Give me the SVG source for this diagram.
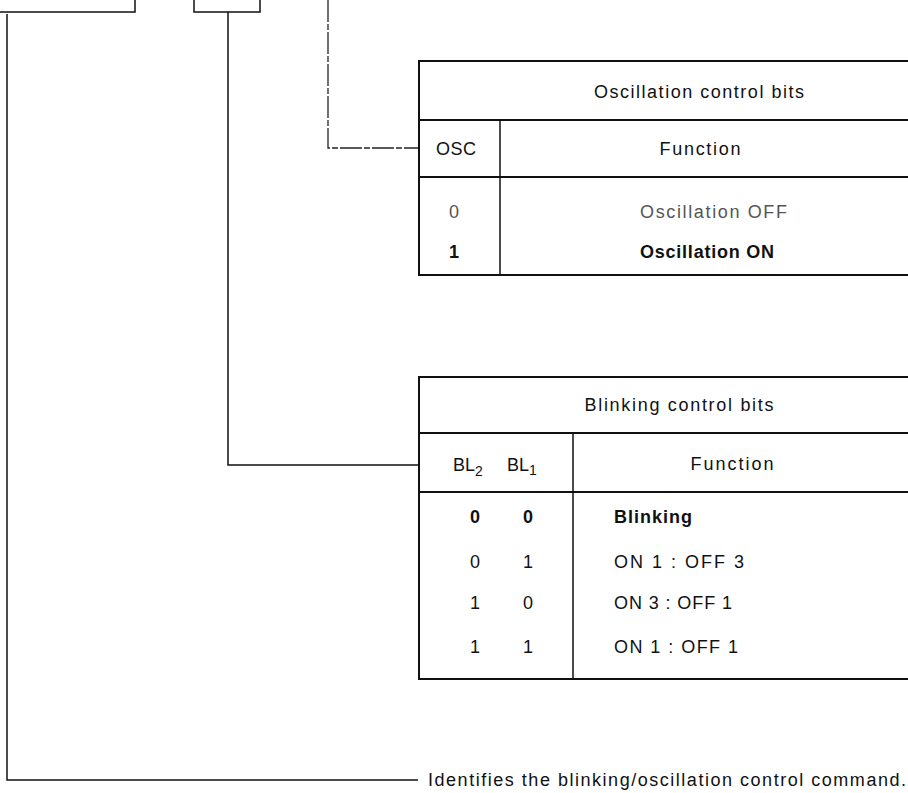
<svg xmlns="http://www.w3.org/2000/svg" width="908" height="793" viewBox="0 0 908 793">
<style>
.ln{stroke:#111;stroke-width:1.5;fill:none}
.tb{stroke:#111;stroke-width:2;fill:none}
.dl{stroke:#222;stroke-width:1.3;fill:none;stroke-dasharray:22 2 6 2}
text{font-family:"Liberation Sans",Arial,sans-serif;font-size:18px;fill:#111}
.c{text-anchor:middle}
.b{font-weight:bold}
.f{fill:#555}
</style>
<rect width="908" height="793" fill="#fff"/>
<g id="reg-box-left"><path class="ln" d="M0 12 H135 V-2"/></g>
<g id="reg-box-mid"><path class="ln" d="M194 -2 V12 H260 V-2"/></g>
<g id="connectors">
<path class="dl" d="M328 0 V148 H419"/>
<path class="ln" d="M228 12 V465 H419"/>
<path class="ln" d="M7 14 V780 H418"/>
</g>
<g id="osc-table">
<rect class="tb" x="419" y="61" width="495" height="214"/>
<line class="tb" x1="419" y1="120" x2="914" y2="120"/>
<line class="tb" x1="419" y1="177" x2="914" y2="177"/>
<line class="ln" x1="500" y1="120" x2="500" y2="275"/>
<text class="c" x="699" y="98" textLength="210" lengthAdjust="spacing">Oscillation control bits</text>
<text class="c" x="456" y="155" textLength="40" lengthAdjust="spacing">OSC</text>
<text class="c" x="700" y="155" textLength="81" lengthAdjust="spacing">Function</text>
<text class="c f" x="454" y="218">0</text>
<text class="f" x="640" y="218" textLength="147" lengthAdjust="spacing">Oscillation OFF</text>
<text class="c b" x="454" y="258">1</text>
<text class="b" x="640" y="258" textLength="134" lengthAdjust="spacing">Oscillation ON</text>
</g>
<g id="blink-table">
<rect class="tb" x="419" y="377" width="495" height="302"/>
<line class="tb" x1="419" y1="433" x2="914" y2="433"/>
<line class="tb" x1="419" y1="492" x2="914" y2="492"/>
<line class="ln" x1="573" y1="433" x2="573" y2="679"/>
<text class="c" x="679" y="411" textLength="189" lengthAdjust="spacing">Blinking control bits</text>
<text x="453" y="471">BL<tspan font-size="14" dy="5">2</tspan></text>
<text x="507" y="471">BL<tspan font-size="14" dy="4">1</tspan></text>
<text class="c" x="732" y="470" textLength="83" lengthAdjust="spacing">Function</text>
<text class="c b" x="475" y="523">0</text><text class="c b" x="528" y="523">0</text>
<text class="b" x="614" y="523" textLength="78" lengthAdjust="spacing">Blinking</text>
<text class="c" x="475" y="568">0</text><text class="c" x="528" y="568">1</text>
<text x="614" y="568" textLength="130" lengthAdjust="spacing">ON 1 : OFF 3</text>
<text class="c" x="475" y="609">1</text><text class="c" x="528" y="609">0</text>
<text x="614" y="609" textLength="118" lengthAdjust="spacing">ON 3 : OFF 1</text>
<text class="c" x="475" y="653">1</text><text class="c" x="528" y="653">1</text>
<text x="614" y="653" textLength="124" lengthAdjust="spacing">ON 1 : OFF 1</text>
</g>
<g id="note">
<text x="428" y="786" textLength="478" lengthAdjust="spacing">Identifies the blinking/oscillation control command.</text>
</g>
</svg>
